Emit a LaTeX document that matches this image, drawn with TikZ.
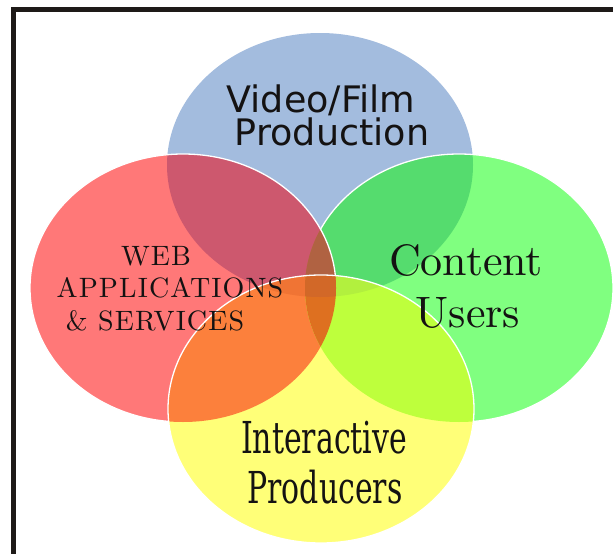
\documentclass[tikz,border=0pt]{standalone}
\usepackage{fontspec}
\usepackage{tikz}
\newfontfamily\vidfont{DejaVu Sans}
\newfontfamily\profont{DejaVu Serif}[FakeStretch=0.68]
\newfontfamily\userfont{lmroman10-regular.otf}
\newfontfamily\webfont{lmroman10-regular.otf}[LetterSpace=4]
\definecolor{vidblue}{RGB}{163,188,222}
\definecolor{usegreen}{RGB}{128,255,128}
\definecolor{webred}{RGB}{255,120,120}
\definecolor{proyellow}{RGB}{255,255,120}
\definecolor{usevid}{RGB}{85,220,110}
\definecolor{webvid}{RGB}{205,88,110}
\definecolor{webuse}{RGB}{190,110,60}
\definecolor{webusevid}{RGB}{176,98,66}
\definecolor{webpro}{RGB}{252,128,60}
\definecolor{usepro}{RGB}{190,255,60}
\definecolor{webvidpro}{RGB}{240,116,52}
\definecolor{usevidpro}{RGB}{178,240,62}
\definecolor{webusepro}{RGB}{222,112,32}
\definecolor{allfour}{RGB}{210,104,40}
\definecolor{framegray}{RGB}{30,26,24}
\definecolor{inkblack}{RGB}{20,18,18}

\newcommand{\vidshape}{(vid) ellipse [x radius=153pt, y radius=132pt]}
\newcommand{\webshape}{(web) ellipse [x radius=153pt, y radius=134pt]}
\newcommand{\useshape}{(use) ellipse [x radius=154pt, y radius=134pt]}
\newcommand{\proshape}{(pro) ellipse [x radius=153pt, y radius=134pt]}

\begin{document}
\begin{tikzpicture}[x=1pt, y=-1pt,
	rim/.style={draw=white, line width=1.3pt},
	vid_text/.style={anchor=base, text=inkblack, inner sep=0pt, font=\vidfont\fontsize{36.5}{36}\selectfont},
	web_text/.style={anchor=base, text=inkblack, inner sep=0pt, font=\webfont\fontsize{28}{28}\selectfont},
	use_text/.style={anchor=base, text=inkblack, inner sep=0pt, font=\userfont\fontsize{44}{44}\selectfont},
	pro_text/.style={anchor=base, text=inkblack, inner sep=0pt, font=\profont\fontsize{44}{44}\selectfont}]

	\useasboundingbox (0,0) rectangle (613,554);
	\clip (0,0) rectangle (613,554);

	\coordinate (vid) at (320,165);
	\coordinate (web) at (183,288);
	\coordinate (use) at (459,288);
	\coordinate (pro) at (321,409);

	% video / film
	\fill[vidblue] \vidshape;

	% content users
	\fill[usegreen] \useshape;
	\begin{scope}
		\clip \useshape;
		\fill[usevid] \vidshape;
	\end{scope}
	\path[rim] \useshape;

	% web applications
	\fill[webred] \webshape;
	\begin{scope}
		\clip \webshape;
		\fill[webvid] \vidshape;
		\fill[webuse] \useshape;
	\end{scope}
	\begin{scope}
		\clip \webshape;
		\clip \vidshape;
		\fill[webusevid] \useshape;
	\end{scope}
	\path[rim] \webshape;

	% interactive producers
	\fill[proyellow] \proshape;
	\begin{scope}
		\clip \proshape;
		\fill[webpro] \webshape;
		\fill[usepro] \useshape;
	\end{scope}
	\begin{scope}
		\clip \proshape;
		\clip \vidshape;
		\fill[webvidpro] \webshape;
		\fill[usevidpro] \useshape;
	\end{scope}
	\begin{scope}
		\clip \proshape;
		\clip \webshape;
		\fill[webusepro] \useshape;
		\clip \vidshape;
		\fill[allfour] \useshape;
	\end{scope}
	\path[rim] \proshape;

	% labels
	\node[vid_text] (vid1) at (321,112) {Video/Film};
	\node[vid_text] (vid2) at (332,145) {Production};

	\node[web_text] (web1) at (156,265) {WEB};
	\node[web_text] (web2) at (170,297) {APPLICATIONS};
	\node[web_text] (web3) at (155,330) {\& SERVICES};

	\node[use_text] (use1) at (466,275) {Content};
	\node[use_text] (use2) at (468,327) {Users};

	\node[pro_text] (pro1) at (324,453) {Interactive};
	\node[pro_text] (pro2) at (325,503) {Producers};

	% frame
	\draw[framegray, line width=5pt] (13.5,9.5) rectangle (700,700);
\end{tikzpicture}
\end{document}
